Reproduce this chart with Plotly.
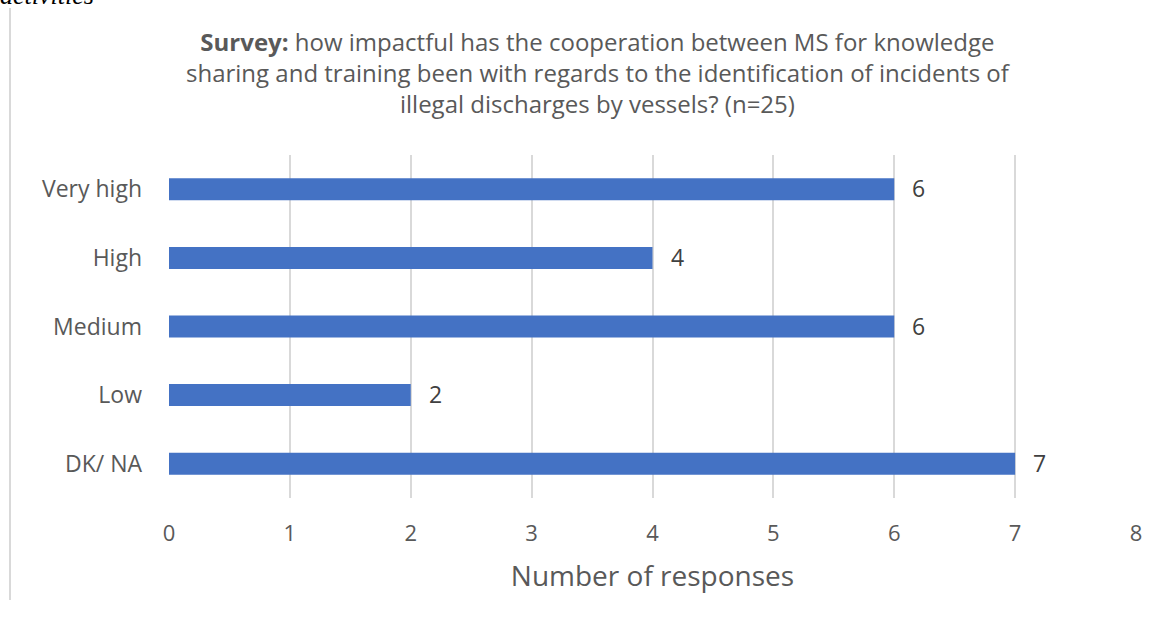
import plotly.graph_objects as go

categories = ["Very high", "High", "Medium", "Low", "DK/ NA"]
values = [6, 4, 6, 2, 7]
x_ticks = [0, 1, 2, 3, 4, 5, 6, 7, 8]

W, H = 1167, 622
L, R, T, B = 169, 31, 155, 124
pw = W - L - R
ph = H - T - B

FONT = "Open Sans, DejaVu Sans, sans-serif"
GRAY = "#595959"

fig = go.Figure()
fig.add_trace(go.Bar(
    y=categories, x=values, orientation="h",
    marker=dict(color="#4472C4", line=dict(width=0)),
    width=0.32,
    cliponaxis=False,
))

# data labels
for c, v in zip(categories, values):
    fig.add_annotation(x=v, y=c, xref="x", yref="y", text=str(v),
                       showarrow=False, xanchor="left", yanchor="middle",
                       xshift=16, yshift=1,
                       font=dict(family=FONT, size=23, color="#404040"))

fig.update_layout(
    width=W, height=H,
    margin=dict(l=L, r=R, t=T, b=B, pad=0),
    paper_bgcolor="white", plot_bgcolor="white",
    showlegend=False,
    font=dict(family=FONT, size=23, color=GRAY),
    xaxis=dict(
        range=[0, 8], tickvals=x_ticks, ticktext=[str(t) for t in x_ticks],
        showgrid=True, gridcolor="#d9d9d9", gridwidth=1.5,
        zeroline=False, showline=False,
        ticks="", ticklabelstandoff=20,
        tickfont=dict(family=FONT, size=22, color=GRAY),
        title=dict(text="Number of responses", standoff=20,
                   font=dict(family=FONT, size=28, color=GRAY)),
    ),
    yaxis=dict(
        categoryorder="array", categoryarray=categories[::-1],
        showgrid=False, zeroline=False, showline=False,
        ticks="", ticklabelstandoff=26,
        tickfont=dict(family=FONT, size=23, color=GRAY),
    ),
    bargap=0.68,
)

# title as annotation (centred on its middle line)
fig.add_annotation(
    text="<b>Survey:</b> how impactful has the cooperation between MS for knowledge<br>"
         "sharing and training been with regards to the identification of incidents of<br>"
         "illegal discharges by vessels? (n=25)",
    xref="paper", yref="paper",
    x=(598 - L) / pw, xanchor="center",
    y=1 + (T - 72) / ph, yanchor="middle",
    showarrow=False, align="center",
    font=dict(family=FONT, size=24, color=GRAY),
)

# left border line of the page
fig.add_shape(type="line", xref="paper", yref="paper",
              x0=(10 - L) / pw, x1=(10 - L) / pw,
              y0=-(600 - (H - B)) / ph, y1=1 + (T - 8) / ph,
              line=dict(color="#d9d9d9", width=2))

# cut-off caption text at the very top
fig.add_annotation(text="<i>activities</i>", xref="paper", yref="paper",
                   x=(-2 - L) / pw, xanchor="left",
                   y=1 + (T + 4) / ph, yanchor="middle",
                   showarrow=False,
                   font=dict(family="Liberation Serif, serif", size=26, color="black"))

fig.write_html("out.html")
